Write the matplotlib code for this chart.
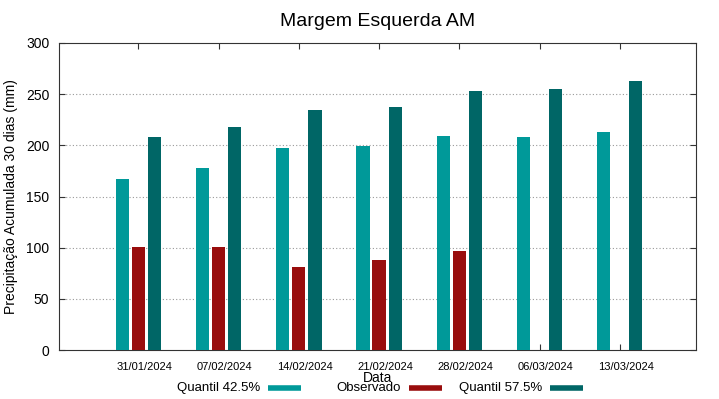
import numpy as np
import matplotlib.pyplot as plt
from matplotlib.lines import Line2D
import matplotlib.transforms as mtransforms

plt.rcParams['font.family'] = ['Liberation Sans', 'DejaVu Sans']

# data
datas = ['31/01/2024', '07/02/2024', '14/02/2024', '21/02/2024',
         '28/02/2024', '06/03/2024', '13/03/2024']
q425 = [167, 178, 197, 199, 209, 208, 213]
observado = [101, 101, 81, 88, 97, np.nan, np.nan]
q575 = [208, 218, 235, 237, 253, 255, 263]

series = [('Quantil 42.5%', q425, '#009999', -0.2),
          ('Observado', observado, '#990d0d', 0.0),
          ('Quantil 57.5%', q575, '#006666', 0.2)]

fig = plt.figure(figsize=(7.19, 3.99), dpi=100)
ax = fig.add_axes([59/719, 1 - 350/399, (696 - 59)/719, (350 - 43)/399])

x = np.arange(len(datas))
for label, vals, color, off in series:
    ax.bar(x + off, vals, width=0.165, color=color, zorder=3)

ax.set_xlim(-0.99, 6.95)
ax.set_ylim(0, 300)
ax.set_yticks(range(0, 301, 50))
ax.set_xticks(x)
ax.set_xticklabels(datas, fontsize=8)
ax.tick_params(axis='x', direction='in', length=4, pad=9, top=True, color='#333333')
ax.tick_params(axis='y', direction='in', length=4, pad=7, right=True, labelsize=10, color='#333333')
shift = mtransforms.ScaledTranslation(6/100, 0, fig.dpi_scale_trans)
for lbl in ax.get_xticklabels():
    lbl.set_transform(lbl.get_transform() + shift)

for yv in range(50, 300, 50):
    ax.axhline(yv, color='#999999', linestyle=(0, (1, 2)), linewidth=0.8, zorder=1)
for sp in ax.spines.values():
    sp.set_color('#333333')

ax.set_title('Margem Esquerda AM', fontsize=14, pad=12)
ax.set_ylabel('Precipitação Acumulada 30 dias (mm)', fontsize=10, labelpad=6)
ax.set_xlabel('Data', fontsize=10, labelpad=-1)

# gnuplot style key: text right aligned, sample after it
key_ends = [260, 401, 542]
for (label, vals, color, off), xe in zip(series, key_ends):
    fig.text(xe/719, 1 - 388/399, label, ha='right', va='center', fontsize=9.5)
    fig.add_artist(Line2D([(xe + 8)/719, (xe + 41)/719], [1 - 388/399] * 2,
                          color=color, linewidth=4, solid_capstyle='butt'))

fig.savefig('out.png', dpi=100)
